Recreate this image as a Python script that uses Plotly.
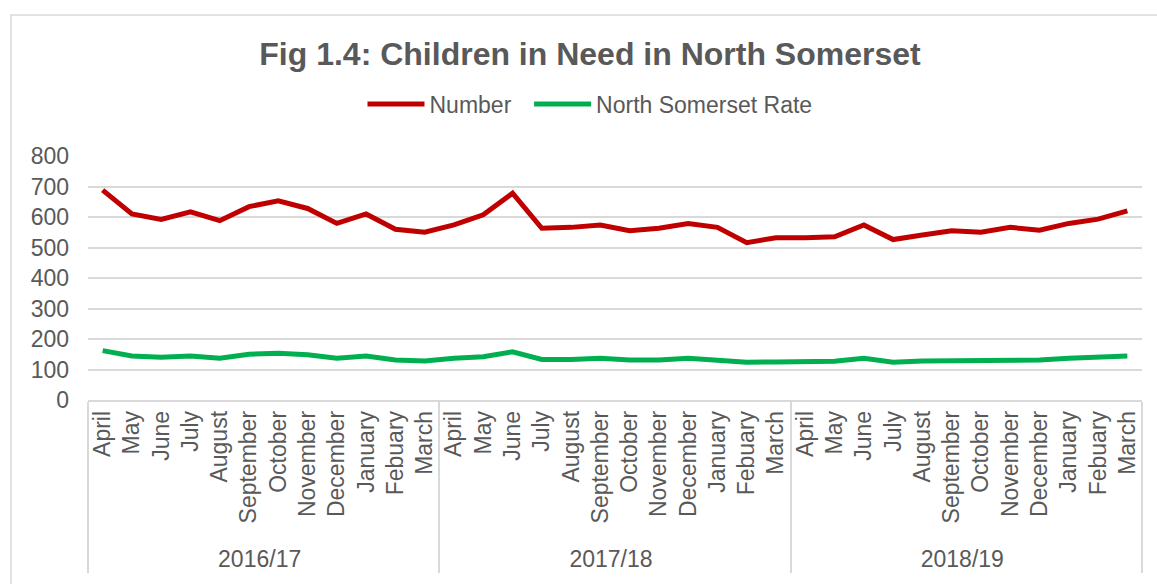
import plotly.graph_objects as go

months = ["April", "May", "June", "July", "August", "September", "October",
          "November", "December", "January", "Febuary", "March"]
years = ["2016/17", "2017/18", "2018/19"]

number = [688, 610, 592, 617, 588, 634, 653, 628, 579, 610, 560, 550,
          574, 607, 678, 563, 566, 574, 555, 563, 579, 566, 516, 532,
          532, 535, 574, 526, 541, 555, 550, 566, 557, 579, 593, 620]
rate = [162, 144, 140, 144, 137, 150, 153, 148, 137, 144, 131, 128,
        137, 142, 158, 133, 133, 137, 131, 131, 137, 131, 124, 125,
        125, 127, 137, 124, 128, 128, 128, 131, 131, 137, 140, 144]

x_outer = [y for y in years for _ in months]
x_inner = [m for _ in years for m in months]

FONT = "Liberation Sans, Arial, sans-serif"
TXT = "#595959"
GRID = "#d9d9d9"

W, H = 1157, 584
ML, MR, MT, MB = 88, 15, 156, 184
PW, PH = W - ML - MR, H - MT - MB

def px_x(p):
    return (p - ML) / PW

def px_y(p):
    return (H - MB - p) / PH

fig = go.Figure()
fig.add_trace(go.Scatter(x=[x_outer, x_inner], y=number, mode="lines",
                         name="Number\u00a0\u00a0",
                         line=dict(color="#C00000", width=5)))
fig.add_trace(go.Scatter(x=[x_outer, x_inner], y=rate, mode="lines",
                         name="North Somerset Rate",
                         line=dict(color="#00B050", width=5)))

fig.update_layout(
    width=W, height=H,
    margin=dict(l=ML, r=MR, t=MT, b=MB),
    paper_bgcolor="white", plot_bgcolor="white",
    font=dict(family=FONT, color=TXT, size=22),
    title=dict(text="<b>Fig 1.4: Children in Need in North Somerset</b>",
               x=590 / W, xanchor="center", xref="container",
               y=1 - 54 / H, yanchor="middle", yref="container",
               font=dict(size=32, color=TXT, family=FONT)),
    legend=dict(orientation="h", x=px_x(590), xanchor="center",
                y=px_y(104), yanchor="middle",
                font=dict(size=23, color=TXT), itemwidth=57,
                tracegroupgap=0, bgcolor="rgba(0,0,0,0)"),
    showlegend=True,
    xaxis=dict(type="multicategory", range=[-0.5, 35.5], showgrid=False,
               showline=True, linecolor=GRID, linewidth=1.5, tickangle=-90,
               tickfont=dict(size=23, color=TXT),
               showdividers=True, dividercolor=GRID, dividerwidth=1.5, ticks=""),
    yaxis=dict(range=[0, 800], dtick=100, showgrid=True, gridcolor=GRID, gridwidth=1.5,
               zeroline=False, showline=False, tickfont=dict(size=23, color=TXT),
               ticklabelstandoff=18),
    shapes=[dict(type="rect", xref="paper", yref="paper",
                 x0=px_x(11), x1=px_x(W + 10), y0=px_y(H + 10), y1=px_y(15),
                 line=dict(color=GRID, width=1.5), fillcolor="rgba(0,0,0,0)", layer="below")],
)

fig.write_html("out.html", config={"displayModeBar": False},
               post_script="document.body.style.margin='0';document.body.style.overflow='hidden';")
